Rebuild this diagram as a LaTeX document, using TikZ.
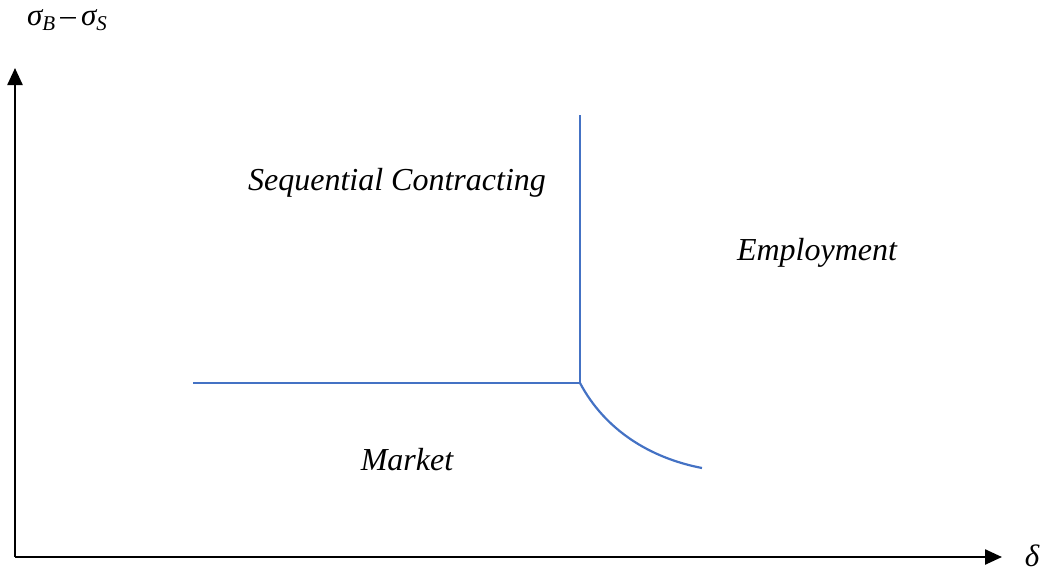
\documentclass[tikz,border=0pt]{standalone}
\usepackage{fontspec}
\setmainfont{Liberation Serif}
\usetikzlibrary{arrows.meta}
\definecolor{curveblue}{HTML}{4472C4}
\tikzset{
  axis/.style={line width=2.4pt, -{Triangle[length=17pt,width=15pt]}},
  bound/.style={line width=2.2pt, curveblue},
  region/.style={font=\fontsize{32}{38}\selectfont\itshape},
  axlabel/.style={font=\fontsize{31}{36}\selectfont\itshape}
}
\begin{document}
\begin{tikzpicture}[x=1pt,y=-1pt]
\useasboundingbox (0,0) rectangle (1042,574);
\coordinate (O) at (15,557);
\coordinate (ytop) at (15,68);
\coordinate (xend) at (1002,557);
\draw[axis] (O) -- (ytop);
\draw[axis] (O) -- (xend);
\node[axlabel] (ylab) at (67,20) {σ\raisebox{-0.35ex}{\fontsize{21}{24}\selectfont B}\,–\,σ\raisebox{-0.35ex}{\fontsize{21}{24}\selectfont S}};
\node[axlabel] (xlab) at (1032,556) {δ};
\coordinate (corner) at (580,383);
\coordinate (vtop) at (580,115);
\coordinate (hleft) at (193,383);
\coordinate (cend) at (702,468);
\draw[bound] (vtop) -- (corner);
\draw[bound] (hleft) -- (corner);
\draw[bound] (corner) .. controls (605,430) and (650,458) .. (cend);
\node[region] (seq) at (397,183) {Sequential Contracting};
\node[region] (emp) at (817,253) {Employment};
\node[region] (mkt) at (407,460) {Market};
\end{tikzpicture}
\end{document}
